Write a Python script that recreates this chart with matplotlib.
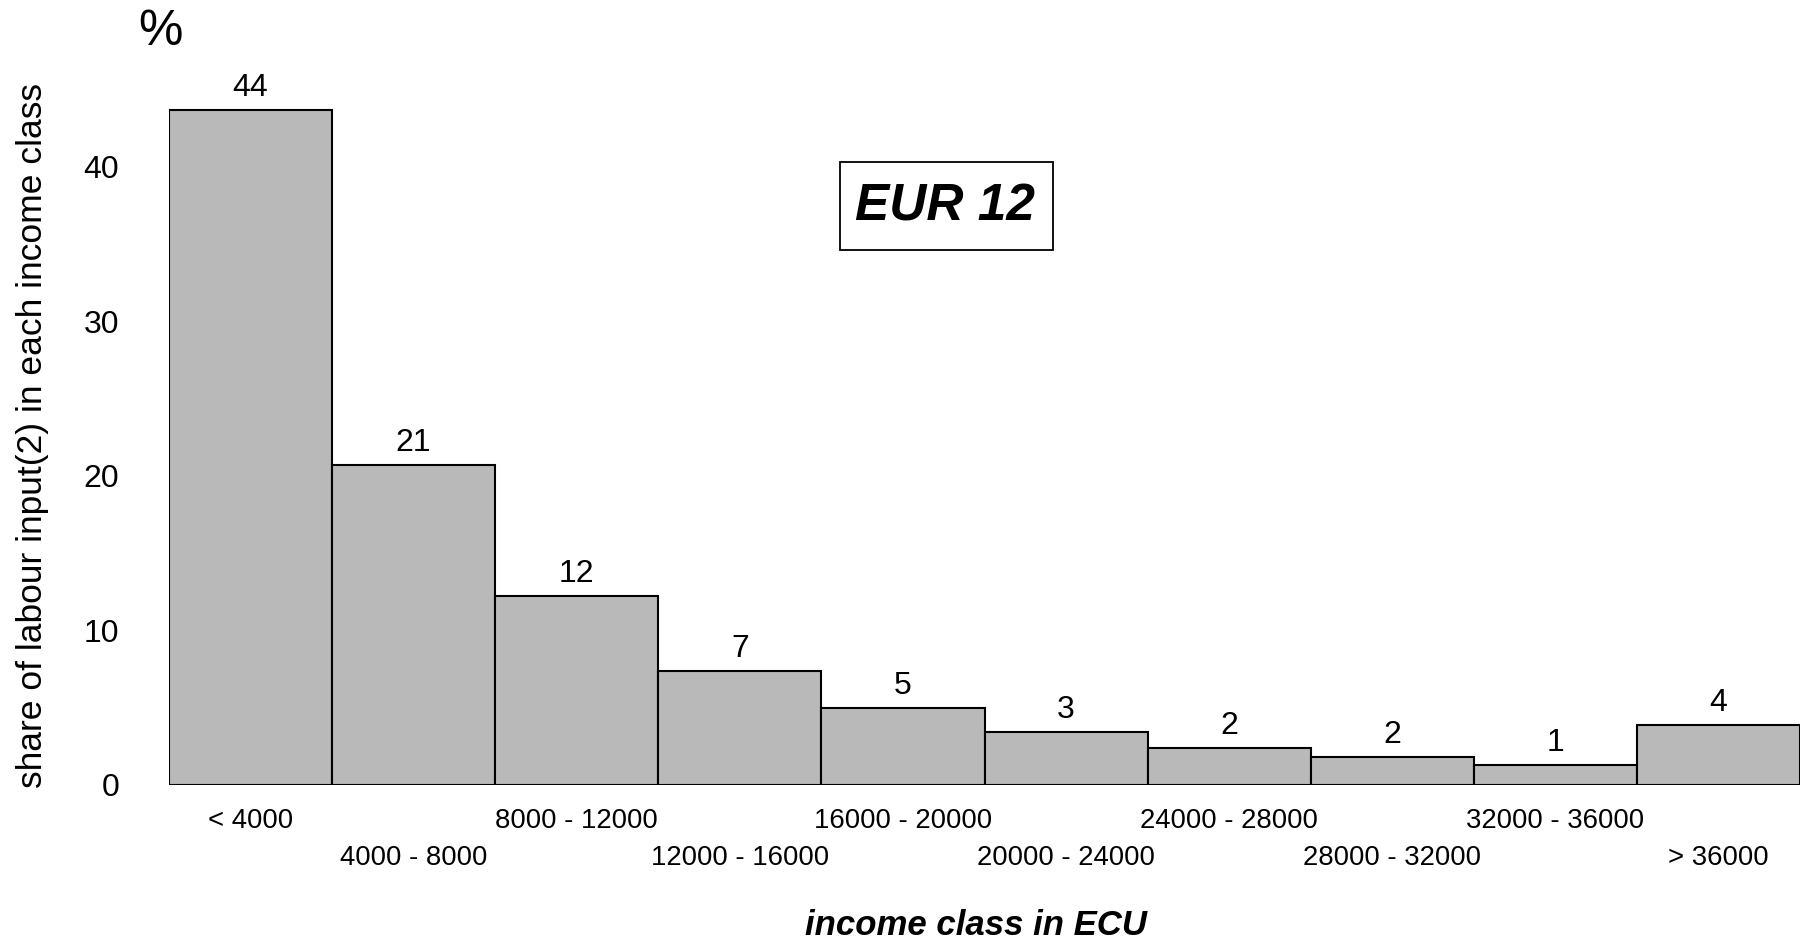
import matplotlib
matplotlib.use('Agg')
import matplotlib.pyplot as plt
from matplotlib.patches import Rectangle

plt.rcParams['font.family'] = ['Liberation Sans', 'DejaVu Sans']

classes = ['< 4000', '4000 - 8000', '8000 - 12000', '12000 - 16000',
           '16000 - 20000', '20000 - 24000', '24000 - 28000',
           '28000 - 32000', '32000 - 36000', '> 36000']
shares = [43.7, 20.7, 12.2, 7.4, 5.0, 3.4, 2.4, 1.8, 1.3, 3.9]
value_labels = ['44', '21', '12', '7', '5', '3', '2', '2', '1', '4']
yticks = [0, 10, 20, 30, 40]

fig = plt.figure(figsize=(18, 9.41), dpi=100)
ax = fig.add_axes([0.0939, 0.1658, 0.9061, 0.772])

pos = list(range(len(classes)))
bars = ax.bar(pos, shares, width=1.0, color='#b9b9b9', edgecolor='black',
              linewidth=1.5)
ax.bar_label(bars, labels=value_labels, padding=5, fontsize=23)

ax.set_xlim(-0.5, 9.5)
ax.set_ylim(0, 47)
ax.set_yticks(yticks)
ax.set_yticklabels([str(t) for t in yticks], fontsize=23)
ax.tick_params(axis='y', length=0, pad=36)
ax.set_xticks([])
for s in ax.spines.values():
    s.set_visible(False)

# staggered class labels under the bars
tr = ax.get_xaxis_transform()
for i, lab in enumerate(classes):
    yy = -0.049 if i % 2 == 0 else -0.1
    ax.text(i, yy, lab, transform=tr, ha='center', va='center', fontsize=19.8)

# framed title box
ax.add_patch(Rectangle((3.614, 34.6), 1.306, 5.7, facecolor='white',
                       edgecolor='black', linewidth=1.3, zorder=3))
ax.text(4.26, 37.4, 'EUR 12', ha='center', va='center', fontsize=37,
        fontweight='bold', fontstyle='italic', zorder=4)

fig.text(0.0178, 0.537, 'share of labour input(2) in each income class',
         rotation=90, ha='center', va='center', fontsize=25.5)
fig.text(0.542, 0.016, 'income class in ECU', ha='center', va='center',
         fontsize=25, fontweight='bold', fontstyle='italic')
fig.text(0.0894, 0.966, '%', ha='center', va='center', fontsize=36)

fig.savefig('out.png', dpi=100)
